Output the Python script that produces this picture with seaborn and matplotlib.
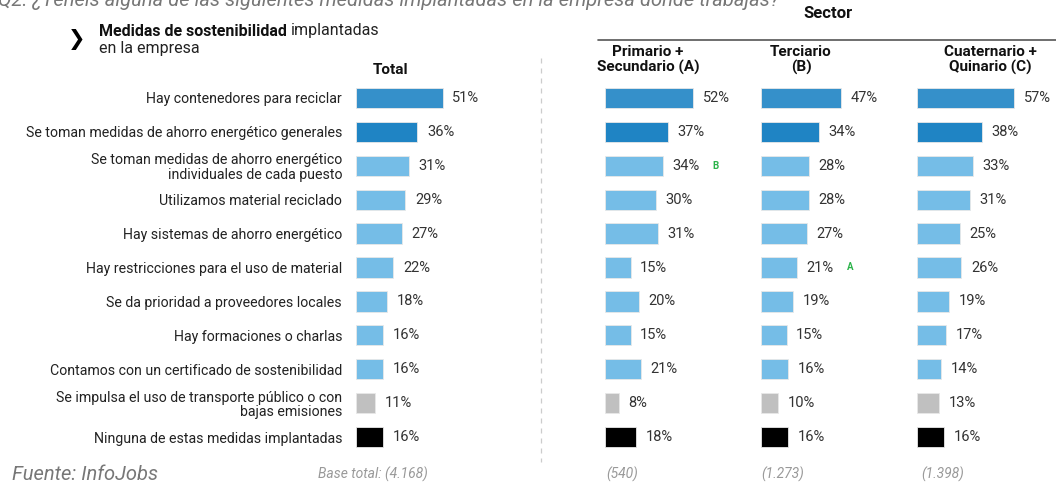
import matplotlib
matplotlib.use("Agg")
import matplotlib.pyplot as plt
import seaborn as sns

sns.set_theme(style="white")
plt.rcParams["font.family"] = ["Roboto", "DejaVu Sans"]

categories = [
    "Hay contenedores para reciclar",
    "Se toman medidas de ahorro energético generales",
    "Se toman medidas de ahorro energético\nindividuales de cada puesto",
    "Utilizamos material reciclado",
    "Hay sistemas de ahorro energético",
    "Hay restricciones para el uso de material",
    "Se da prioridad a proveedores locales",
    "Hay formaciones o charlas",
    "Contamos con un certificado de sostenibilidad",
    "Se impulsa el uso de transporte público o con\nbajas emisiones",
    "Ninguna de estas medidas implantadas",
]
total = [51, 36, 31, 29, 27, 22, 18, 16, 16, 11, 16]
sector_a = [52, 37, 34, 30, 31, 15, 20, 15, 21, 8, 18]
sector_b = [47, 34, 28, 28, 27, 21, 19, 15, 16, 10, 16]
sector_c = [57, 38, 33, 31, 25, 26, 19, 17, 14, 13, 16]
headers = ["Total", "Primario +\nSecundario (A)", "Terciario\n(B)", "Cuaternario +\nQuinario (C)"]
bases = ["Base total: (4.168)", "(540)", "(1.273)", "(1.398)"]
# significance letters: (column index, row index, letter)
signif = [(1, 2, "B"), (2, 5, "A")]

colors = ["#3590ca", "#1f84c4"] + ["#75bde7"] * 7 + ["#c0c0c0", "#000000"]

W, H = 1056, 482
fig = plt.figure(figsize=(W / 100, H / 100), dpi=100)

top_px, bot_px = 81, 454
lefts = [356, 605, 761, 917]
px_per_pct = 1.70
span = 60
series = [total, sector_a, sector_b, sector_c]
header_x = [391, 648, 801, 990]
base_x = [318, 606, 761, 921]

axes = []
for i, (lx, vals) in enumerate(zip(lefts, series)):
    ax = fig.add_axes([lx / W, 1 - bot_px / H, span * px_per_pct / W, (bot_px - top_px) / H])
    sns.barplot(x=vals, y=categories, hue=categories, palette=colors, legend=False,
                orient="h", width=0.6, saturation=1, edgecolor="#e8e8e8",
                linewidth=0.6, ax=ax)
    ax.set_xlim(0, span)
    ax.set_ylim(10.5, -0.5)
    ax.set_xlabel("")
    ax.set_ylabel("")
    ax.set_xticks([])
    sns.despine(ax=ax, left=True, bottom=True)
    for j, v in enumerate(vals):
        ax.annotate(f"{v}%", (v, j), xytext=(7, 0), textcoords="offset points",
                    va="center", ha="left", fontsize=10.5, color="#333333",
                    annotation_clip=False)
    if i == 0:
        ax.tick_params(axis="y", length=0, pad=10, labelsize=10.2, labelcolor="#222222")
        for lbl in ax.get_yticklabels():
            lbl.set_ha("right")
            lbl.set_linespacing(1.05)
    else:
        ax.set_yticks([])
    axes.append(ax)

for col, row, letter in signif:
    v = series[col][row]
    axes[col].annotate(letter, (v, row), xytext=(36, 0), textcoords="offset points",
                       va="center", ha="left", fontsize=7, fontweight="bold",
                       color="#2bb34a", annotation_clip=False)

# headers
for hx, h in zip(header_x, headers):
    y = 70 if h == "Total" else 60
    fig.text(hx / W, 1 - y / H, h, ha="center", va="center", fontsize=11,
             fontweight="bold", color="#111111", linespacing=1.05)

fig.text(828 / W, 1 - 13 / H, "Sector", ha="center", va="center", fontsize=12,
         fontweight="bold", color="#111111")
fig.add_artist(plt.Line2D([598 / W, 1.0], [1 - 40 / H, 1 - 40 / H], color="#555555", lw=1.2))
fig.add_artist(plt.Line2D([541 / W, 541 / W], [1 - 58 / H, 1 - 462 / H], color="#cccccc",
                          lw=0.9, ls=(0, (4, 4))))

# chart subtitle
fig.text(68 / W, 1 - 39 / H, "❯", ha="left", va="center", fontsize=15,
         fontweight="bold", color="#000000", family=["DejaVu Sans"])
t1 = fig.text(99 / W, 1 - 31 / H, "Medidas de sostenibilidad ", ha="left", va="center",
              fontsize=11.5, fontweight="bold", color="#111111")
fig.canvas.draw()
bb = t1.get_window_extent()
fig.text(bb.x1 / W, 1 - 31 / H, "implantadas", ha="left", va="center", fontsize=11.5,
         color="#222222")
fig.text(99 / W, 1 - 49 / H, "en la empresa", ha="left", va="center", fontsize=11.5,
         color="#222222")

# question, partly cut at top
fig.text(-2 / W, 1 - 1 / H,
         "Q2. ¿Tenéis alguna de las siguientes medidas implantadas en la empresa donde trabajas?",
         ha="left", va="center", fontsize=14.5, style="italic", color="#777777")

# footer
fig.text(12 / W, 1 - 474 / H, "Fuente: InfoJobs", ha="left", va="center", fontsize=14.5,
         style="italic", color="#777777")
for bx, b in zip(base_x, bases):
    fig.text(bx / W, 1 - 474 / H, b, ha="left", va="center", fontsize=10,
             style="italic", color="#999999")

fig.savefig("out.png", dpi=100)
